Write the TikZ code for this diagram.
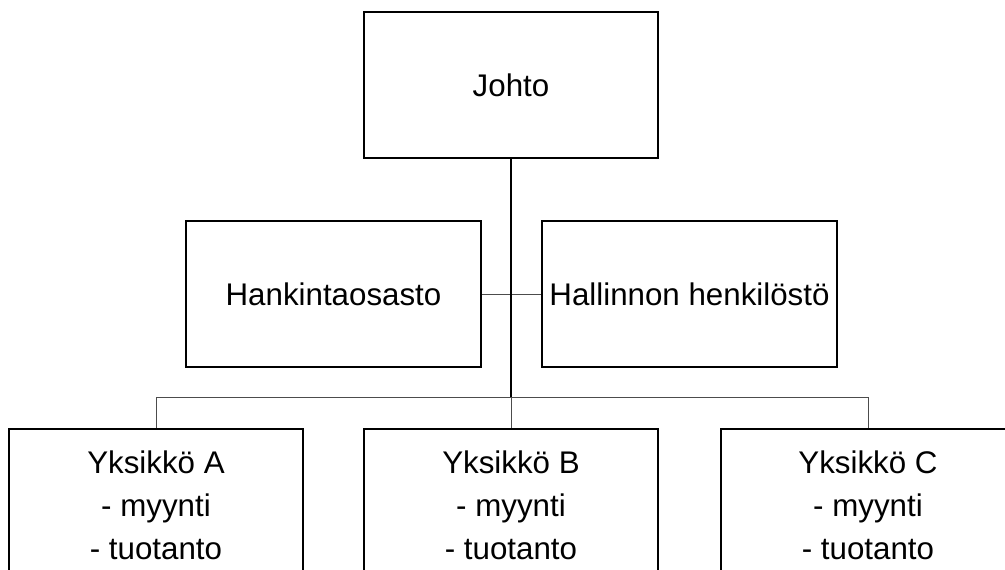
\documentclass[tikz,border=0pt]{standalone}
\usepackage{fontspec}
\setmainfont{Liberation Sans}
\begin{document}
\begin{tikzpicture}[x=1pt,y=1pt,
  orgbox/.style={draw=black, line width=2pt, fill=white, minimum width=294pt, minimum height=146pt,
    inner sep=0pt, align=center, font=\fontsize{31.3}{43}\selectfont},
  unitbox/.style={orgbox, minimum height=152pt},
  thick line/.style={draw=black, line width=1.4pt},
  thin line/.style={draw=black!70, line width=0.9pt}]
\useasboundingbox (0,0) rectangle (1005,-570);
\clip (0,0) rectangle (1005,-570);
\fill[white] (0,0) rectangle (1005,-570);
\coordinate (bus) at (511,-397);
\coordinate (busL) at (156,-397);
\coordinate (busR) at (868,-397);
\node[orgbox] (johto) at (511,-85) {Johto};
\node[orgbox, minimum width=295pt] (hank) at (333.5,-294) {Hankintaosasto};
\node[orgbox, minimum width=295pt] (hall) at (689.5,-294) {Hallinnon henkilöstö};
\node[unitbox] (ya) at (156,-505) {Yksikkö A\\- myynti\\- tuotanto};
\node[unitbox] (yb) at (511,-505) {Yksikkö B\\- myynti\\- tuotanto};
\node[unitbox] (yc) at (868,-505) {Yksikkö C\\- myynti\\- tuotanto};
\draw[thin line] (hank.east) -- (hall.west);
\draw[thin line] (busL) -- (busR);
\draw[thin line] (busL) -- (ya.north);
\draw[thin line] (bus) -- (yb.north);
\draw[thin line] (busR) -- (yc.north);
\draw[thick line] (johto.south) -- (bus);
\end{tikzpicture}
\end{document}
